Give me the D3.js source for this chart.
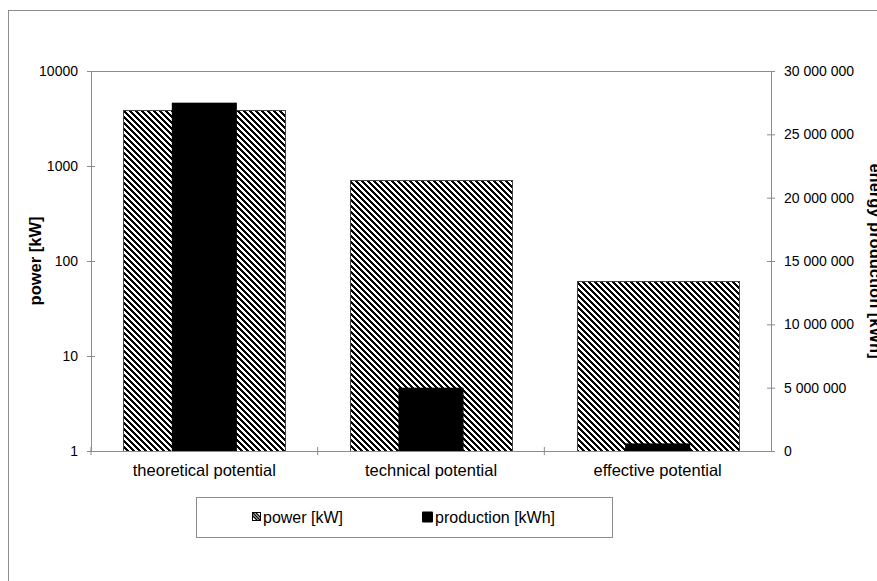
<!DOCTYPE html>
<html>
<head>
<meta charset="utf-8">
<script src="https://cdn.jsdelivr.net/npm/d3@7"></script>
<style>
  html, body { margin: 0; padding: 0; background: #fff; }
  svg { display: block; font-family: "Liberation Sans", Arial, sans-serif; }
</style>
</head>
<body>
<svg id="chart" width="877" height="581"></svg>
<script>
const categories = ["theoretical potential", "technical potential", "effective potential"];
const powerKW = [3900, 710, 62];
const productionKWh = [27500000, 5000000, 600000];
const leftTicks = [1, 10, 100, 1000, 10000];
const rightTicks = [0, 5000000, 10000000, 15000000, 20000000, 25000000, 30000000];
const seriesNames = ["power [kW]", "production [kWh]"];

const svg = d3.select("#chart");
const W = 877, H = 581;
const plot = { left: 91, right: 771, top: 71, bottom: 451 };
const grey = "#8c8c8c";

// crisp pixel hatch pattern ("\" diagonals)
const defs = svg.append("defs");
const P = 6;
const pat = defs.append("pattern")
  .attr("id", "hatch")
  .attr("patternUnits", "userSpaceOnUse")
  .attr("x", 0).attr("y", 0)
  .attr("width", P).attr("height", P);
pat.append("rect").attr("width", P).attr("height", P).attr("fill", "#fff");
const cells = [];
for (let j = 0; j < P; j++) for (let i = 0; i < P; i++) {
  const k = ((i - j) % P + P) % P;
  if (k < 3) cells.push([i, j]);
}
pat.selectAll("rect.c").data(cells).join("rect").attr("class", "c")
  .attr("x", d => d[0]).attr("y", d => d[1]).attr("width", 1).attr("height", 1)
  .attr("fill", "#000").attr("shape-rendering", "crispEdges");

// outer border
svg.append("rect")
  .attr("x", 8.5).attr("y", 10.5)
  .attr("width", W + 20).attr("height", H + 20)
  .attr("fill", "none").attr("stroke", grey).attr("stroke-width", 1);

const x = d3.scaleBand().domain(categories).range([plot.left, plot.right]).padding(0);
const yL = d3.scaleLog().domain([1, 10000]).range([plot.bottom, plot.top]);
const yR = d3.scaleLinear().domain([0, 30000000]).range([plot.bottom, plot.top]);

const powerW = x.bandwidth() * 0.716;
const prodW = x.bandwidth() * 0.287;

// plot top frame line
svg.append("line")
  .attr("x1", plot.left).attr("x2", plot.right)
  .attr("y1", plot.top + 0.5).attr("y2", plot.top + 0.5)
  .attr("stroke", grey);

// power bars
svg.append("g").selectAll("rect").data(categories).join("rect")
  .attr("x", d => Math.round(x(d) + (x.bandwidth() - powerW) / 2) + 0.5)
  .attr("y", (d, i) => Math.round(yL(powerKW[i])) + 0.5)
  .attr("width", Math.round(powerW))
  .attr("height", (d, i) => yL(1) - Math.round(yL(powerKW[i])))
  .attr("fill", "url(#hatch)")
  .attr("stroke", "#444").attr("stroke-width", 1);

// production bars
svg.append("g").selectAll("rect").data(categories).join("rect")
  .attr("x", d => x(d) + (x.bandwidth() - prodW) / 2)
  .attr("y", (d, i) => yR(productionKWh[i]))
  .attr("width", prodW)
  .attr("height", (d, i) => yR(0) - yR(productionKWh[i]))
  .attr("fill", "#000");

// left axis
const gL = svg.append("g").attr("transform", `translate(${plot.left},0)`)
  .call(d3.axisLeft(yL).tickValues(leftTicks).tickFormat(d3.format("d")).tickSize(4).tickPadding(9));
gL.selectAll(".tick line").attr("x2", -4).attr("x1", 4);
// right axis
const loc = d3.formatLocale({ thousands: " ", grouping: [3], decimal: ".", currency: ["", ""] });
const gR = svg.append("g").attr("transform", `translate(${plot.right},0)`)
  .call(d3.axisRight(yR).tickValues(rightTicks).tickFormat(loc.format(",")).tickSize(4).tickPadding(9));
gR.selectAll(".tick line").attr("x1", -4).attr("x2", 4);
// bottom axis
const bTicks = [plot.left, x(categories[1]), x(categories[2])];
const gB = svg.append("g").attr("transform", `translate(0,${plot.bottom})`)
  .call(d3.axisBottom(x).tickSize(0).tickPadding(13));
gB.selectAll(".tick text").attr("dy", "0.71em");
gB.append("g").selectAll("line").data(bTicks).join("line")
  .attr("x1", d => d).attr("x2", d => d)
  .attr("y1", -4).attr("y2", 4)
  .attr("stroke", grey);

[gL, gR, gB].forEach(g => {
  g.select(".domain").attr("stroke", grey);
  g.selectAll(".tick line").attr("stroke", grey);
  g.selectAll("text").attr("fill", "#000").attr("font-size", 14)
    .attr("font-family", "'Liberation Sans', Arial, sans-serif");
});
gB.selectAll(".tick text").attr("font-size", 16.5);
gL.select(".domain").attr("d", `M0.5,${plot.top}V${plot.bottom}`);
gR.select(".domain").attr("d", `M0.5,${plot.top}V${plot.bottom}`);
gB.select(".domain").attr("d", `M${plot.left},0.5H${plot.right}`);

// axis titles
svg.append("text")
  .attr("transform", `translate(41,${(plot.top + plot.bottom) / 2}) rotate(-90)`)
  .attr("text-anchor", "middle")
  .attr("font-size", 16.5).attr("font-weight", "bold")
  .text("power [kW]");
svg.append("text")
  .attr("transform", `translate(870,${(plot.top + plot.bottom) / 2}) rotate(90)`)
  .attr("text-anchor", "middle")
  .attr("font-size", 16.5).attr("font-weight", "bold")
  .text("energy production [kWh]");

// legend
const lg = svg.append("g");
lg.append("rect")
  .attr("x", 196.5).attr("y", 497.5).attr("width", 416).attr("height", 40)
  .attr("fill", "#fff").attr("stroke", grey);
// power symbol
lg.append("rect").attr("x", 252.5).attr("y", 512.5).attr("width", 8).attr("height", 8)
  .attr("fill", "#fff").attr("stroke", "#000");
lg.append("path").attr("d", "M252.5,512.5L260.5,520.5M252.5,515.5L257.5,520.5M255.5,512.5L260.5,517.5")
  .attr("stroke", "#000").attr("stroke-width", 1.4);
lg.append("text").attr("x", 263).attr("y", 523).attr("font-size", 16).text(seriesNames[0]);
lg.append("rect").attr("x", 422).attr("y", 511.5).attr("width", 11).attr("height", 11).attr("rx", 1).attr("fill", "#000");
lg.append("text").attr("x", 435).attr("y", 523).attr("font-size", 16).text(seriesNames[1]);
</script>
</body>
</html>
